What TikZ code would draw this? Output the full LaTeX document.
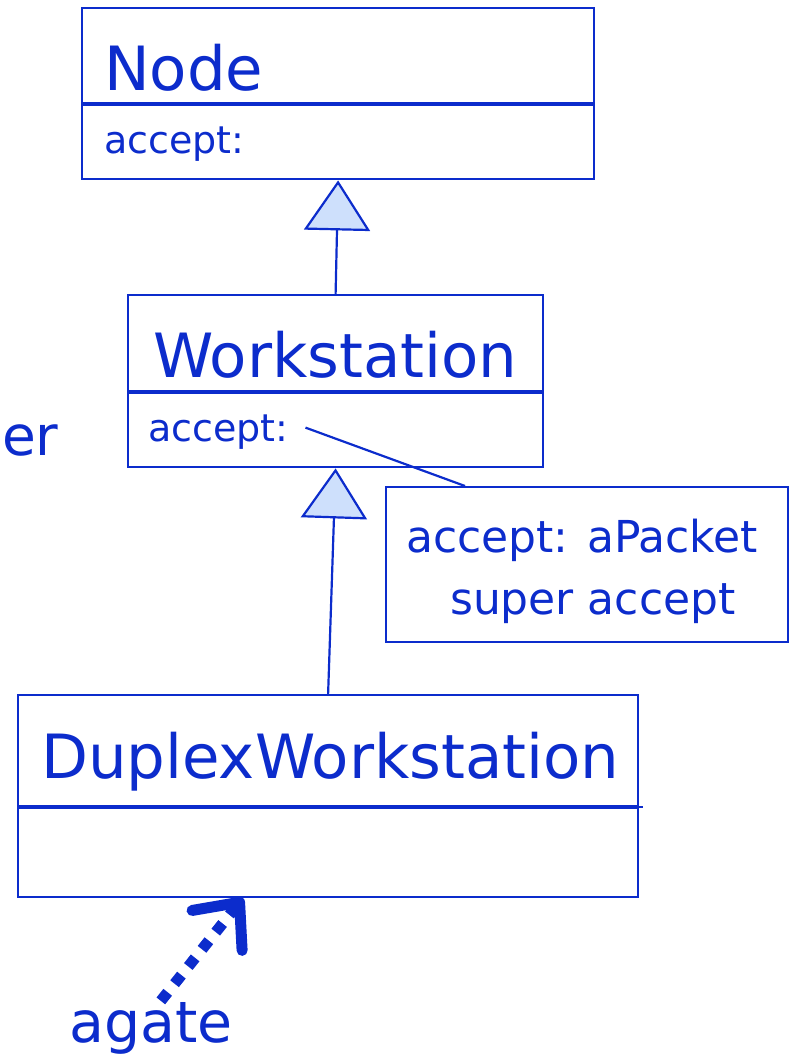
\documentclass[tikz,border=0pt]{standalone}
\usepackage{fontspec}
\setmainfont{DejaVu Sans}
\usetikzlibrary{arrows.meta,calc}
\definecolor{umlblue}{RGB}{12,44,204}
\definecolor{umlfill}{RGB}{206,224,252}

\begin{document}
\begin{tikzpicture}[
        %Environment config
        x=1pt, y=1pt,
        color=umlblue,
        line width=2.2pt,
        %Environment styles
        ClassCfg/.style={
            draw=umlblue,
            rectangle,
            inner sep=0pt,
            anchor=north west
        },
        BigText/.style={font=\fontsize{61}{72}\selectfont, inner sep=0pt, anchor=base west},
        OpText/.style={font=\fontsize{38}{46}\selectfont, inner sep=0pt, anchor=base west},
        NoteText/.style={font=\fontsize{44}{52}\selectfont, inner sep=0pt, anchor=base west},
        GenCfg/.style={-{Triangle[length=50pt,width=66pt,fill=umlfill]}}
    ]
    \useasboundingbox (0,0) rectangle (789,-1063);

    % class boxes
    \path
        (81,-7) node[ClassCfg, minimum width=512pt, minimum height=95pt](NodeName){}
        (NodeName.south west) node[ClassCfg, minimum width=512pt, minimum height=74pt](NodeOps){}
        (127,-294) node[ClassCfg, minimum width=415pt, minimum height=96pt](WsName){}
        (WsName.south west) node[ClassCfg, minimum width=415pt, minimum height=74pt](WsOps){}
        (17,-694) node[ClassCfg, minimum width=620pt, minimum height=111pt](DupName){}
        (DupName.south west) node[ClassCfg, minimum width=620pt, minimum height=89pt](DupOps){}
        (385,-486) node[ClassCfg, minimum width=402pt, minimum height=155pt](Note){};

    % texts
    \path
        (103,-90) node[BigText](NodeTxt){Node}
        (103,-153) node[OpText](NodeAcc){accept:}
        (152,-377) node[BigText](WsTxt){Workstation}
        (147,-441) node[OpText](WsAcc){accept:}
        (40,-778) node[BigText](DupTxt){DuplexWorkstation}
        (405,-552) node[NoteText](NoteL1){accept: aPacket}
        (449,-614) node[NoteText](NoteL2){super accept}
        (1,-455) node[font=\fontsize{55}{66}\selectfont, inner sep=0pt, anchor=base west](Er){er}
        (68,-1042) node[font=\fontsize{57}{68}\selectfont, inner sep=0pt, anchor=base west](Agate){agate};

    \draw[GenCfg] (WsName.north) -- (NodeOps.south);
    \draw[GenCfg] (DupName.north) -- (WsOps.south);

    \draw ($(WsAcc.east)+(16,4)$) -- ($(Note.north west)+(80,0)$);
    \draw (DupName.south east) -- ++(4,0);

    \coordinate (AgateTip) at (243,-898);
    \draw[line width=11pt, dash pattern=on 11pt off 11pt,
          -{Straight Barb[length=36pt,width=64pt,line cap=round,line join=round]}]
        ($(Agate.north)+(10,0)$) -- (AgateTip);
\end{tikzpicture}
\end{document}
